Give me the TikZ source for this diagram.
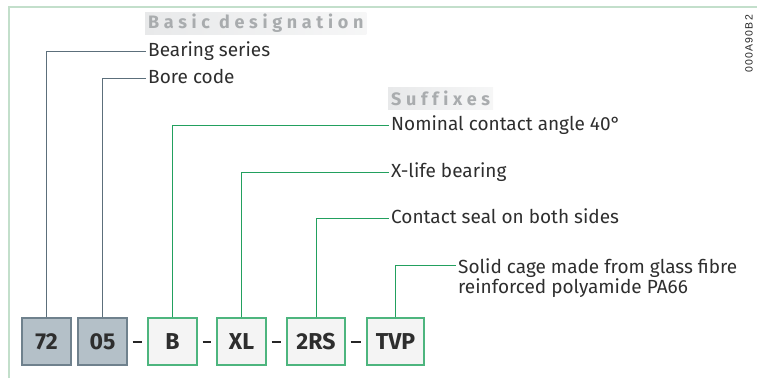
\documentclass[tikz,border=0pt]{standalone}
\usepackage{fontspec}
\setmainfont{Fira Sans}
\newfontfamily\codefont{Liberation Sans}
\usetikzlibrary{shadows}
\definecolor{framec}{HTML}{C3DFCB}
\definecolor{greyline}{HTML}{5C6F7B}
\definecolor{greenline}{HTML}{22A05E}
\definecolor{greyfill}{HTML}{B4C0C8}
\definecolor{greyborder}{HTML}{6F818D}
\definecolor{greenborder}{HTML}{4DB57E}
\definecolor{greenfill}{HTML}{F4F4F4}
\definecolor{txt}{HTML}{2E2E2E}
\definecolor{headtxt}{HTML}{A9ACAE}
\definecolor{headbg}{HTML}{E8E9EA}
\begin{document}
\begin{tikzpicture}[x=1pt,y=-1pt,
  codebox/.style={draw, line width=1.3pt, minimum height=47pt, inner sep=0pt,
    font=\fontsize{23}{25}\bfseries, text=txt,
    drop shadow={shadow xshift=1.2pt, shadow yshift=-1.4pt, opacity=0.28}},
  basebox/.style={codebox, fill=greyfill, draw=greyborder},
  sufbox/.style={codebox, fill=greenfill, draw=greenborder},
  lbl/.style={anchor=west, inner xsep=2pt, inner ysep=0pt,
    font=\fontsize{19}{20.5}\selectfont, text=txt},
  onelbl/.style={lbl, text height=13pt, text depth=3pt},
  head/.style={anchor=west, inner xsep=3pt, inner ysep=0pt, minimum height=22pt,
    font=\fontsize{18}{20}\bfseries\addfontfeature{LetterSpace=26,Ligatures=NoCommon}, text=headtxt,
    left color=headbg, right color=headbg!40!white},
  greyconn/.style={draw=greyline, line width=0.9pt},
  greenconn/.style={draw=greenline, line width=0.9pt},
  sep/.style={draw=black!85, line width=1.8pt}
]
\useasboundingbox (0,0) rectangle (762,378);
% frame
\draw[framec, line width=1.2pt] (9,378) -- (9,7) -- (757,7);
% headings
\node[head] (hbasic) at (145,23) {Basic designation};
\node[head] (hsuf) at (388,98) {Suffixes};
% code boxes
\node[basebox, minimum width=49pt] (b72) at (46.5,341.5) {72};
\node[basebox, minimum width=49pt] (b05) at (102.5,341.5) {05};
\node[sufbox, minimum width=49pt] (bB) at (172.5,341.5) {B};
\node[sufbox, minimum width=49pt] (bXL) at (241.5,341.5) {XL};
\node[sufbox, minimum width=58pt] (b2RS) at (316,341.5) {2RS};
\node[sufbox, minimum width=57pt] (bTVP) at (395.5,341.5) {TVP};
% separators
\draw[sep] ([xshift=5pt]b05.east |- 0,342) -- ([xshift=-5pt]bB.west |- 0,342);
\draw[sep] ([xshift=5pt]bB.east |- 0,342) -- ([xshift=-5pt]bXL.west |- 0,342);
\draw[sep] ([xshift=5pt]bXL.east |- 0,342) -- ([xshift=-5pt]b2RS.west |- 0,342);
\draw[sep] ([xshift=5pt]b2RS.east |- 0,342) -- ([xshift=-5pt]bTVP.west |- 0,342);
% labels
\node[onelbl] (l1) at (146,51) {Bearing series};
\node[onelbl] (l2) at (146,78) {Bore code};
\node[onelbl] (l3) at (389,125) {Nominal contact angle 40°};
\node[onelbl] (l4) at (389,172) {X-life bearing};
\node[onelbl] (l6) at (389,218) {Contact seal on both sides};
\node[lbl, anchor=north west, align=left] (l5) at (456,258) {Solid cage made from glass fibre\\reinforced polyamide PA66};
% connectors
\draw[greyconn] (b72.north) |- (l1.west);
\draw[greyconn] (b05.north) |- (l2.west);
\draw[greenconn] (bB.north) |- (l3.west);
\draw[greenconn] (bXL.north) |- (l4.west);
\draw[greenconn] (b2RS.north) |- (l6.west);
\draw[greenconn] (bTVP.north) |- ([yshift=-7pt]l5.north west);
% drawing code
\node[rotate=90, inner sep=0pt, font=\codefont\fontsize{10.5}{12}\selectfont\addfontfeature{LetterSpace=12}, text=black!85] (code) at (749,44) {000A90B2};
\end{tikzpicture}
\end{document}
